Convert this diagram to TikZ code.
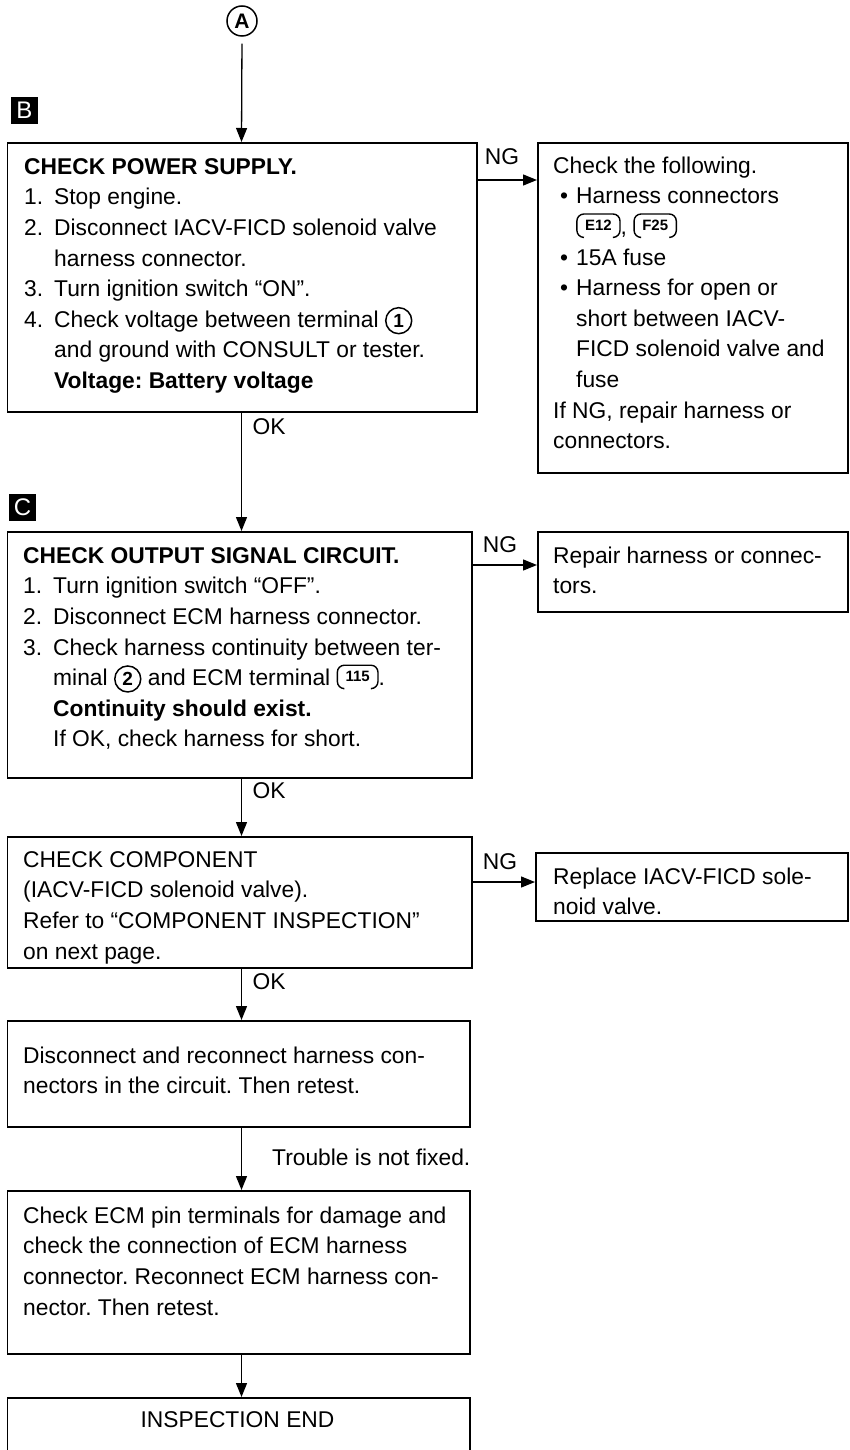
\documentclass[tikz,border=0pt]{standalone}
\usepackage{fontspec}
\setmainfont{Liberation Sans}
\usetikzlibrary{arrows.meta}

% circled terminal number
\newcommand\cnum[1]{\tikz[baseline=0pt]\node[anchor=base,circle,draw,line width=1.5pt,inner sep=0pt,minimum size=26pt,align=center,font=\fontsize{19}{19}\selectfont\bfseries]{#1};}
% connector symbol: rounded cap over the connector number
\newcommand\conn[1]{\tikz[baseline={([yshift=3pt]k.south)}]{\node[anchor=center,inner xsep=8pt,inner ysep=0pt,minimum height=23pt,align=center,font=\fontsize{15}{15}\selectfont\bfseries](k){#1};\draw[line width=1.4pt,rounded corners=7pt]([xshift=6pt]k.south west)--(k.south west)--(k.north west)--(k.north east)--(k.south east)--([xshift=-6pt]k.south east);}}
% numbered items, bullets and indents
\newcommand\nm[1]{\makebox[30pt][l]{#1}}
\newcommand\ind{\hspace*{30pt}}
\newcommand\bul{\hspace*{7pt}\makebox[16pt][l]{•}}
\newcommand\bind{\hspace*{23pt}}
\newcommand\fst{\rule{0pt}{23pt}}

\begin{document}
\frenchspacing
\begin{tikzpicture}[x=1pt,y=-1pt,
  box/.style={draw,line width=1.7pt,inner sep=0pt,anchor=north west},
  txt/.style={anchor=north west,inner sep=0pt,align=left,font=\fontsize{22.8}{30.6}\selectfont\frenchspacing},
  lbl/.style={inner sep=0pt,font=\fontsize{22.8}{26}\selectfont\frenchspacing},
  arr/.style={line width=1.3pt,-{Triangle[length=14pt,width=11pt]}},
  tagbox/.style={fill=black,text=white,minimum size=27pt,inner sep=0pt,font=\fontsize{24}{24}\selectfont}]
\useasboundingbox (0,0) rectangle (850,1450);
\clip (0,0) rectangle (850,1450);
\fill[white] (0,0) rectangle (850,1450);

\coordinate (axis) at (241.5,0);

% entry point
\node[draw,circle,line width=1.5pt,minimum size=30pt,inner sep=0pt,font=\fontsize{21}{21}\selectfont\bfseries] (A) at (242,21) {A};

% step markers
\node[tagbox] (tagB) at (24.5,110.5) {B};
\node[tagbox] (tagC) at (22.5,507.5) {C};

% boxes
\node[box,minimum width=469.5pt,minimum height=269pt] (B) at (6.5,142) {};
\node[box,minimum width=310pt,minimum height=330pt] (R1) at (537,142) {};
\node[box,minimum width=464.5pt,minimum height=246pt] (C) at (6.5,531) {};
\node[box,minimum width=310pt,minimum height=80pt] (R2) at (537,531) {};
\node[box,minimum width=464.5pt,minimum height=131pt] (D) at (6.5,836) {};
\node[box,minimum width=312pt,minimum height=68pt] (R3) at (535,852) {};
\node[box,minimum width=462.5pt,minimum height=106pt] (E) at (6.5,1020) {};
\node[box,minimum width=462.5pt,minimum height=163pt] (F) at (6.5,1190) {};
\node[box,minimum width=462.5pt,minimum height=90pt] (G) at (6.5,1397) {};

% box texts
\node[txt] (Bt) at (24,151) {\fst\textbf{CHECK POWER SUPPLY.}\\
\nm{1.}Stop engine.\\
\nm{2.}Disconnect IACV-FICD solenoid valve\\
\ind harness connector.\\
\nm{3.}Turn ignition switch “ON”.\\
\nm{4.}Check voltage between terminal \cnum{1}\\
\ind and ground with CONSULT or tester.\\
\ind\textbf{Voltage: Battery voltage}};

\node[txt] (R1t) at (553,150) {\fst Check the following.\\
\bul Harness connectors\\
\bind\conn{E12}, \conn{F25}\\
\bul 15A fuse\\
\bul Harness for open or\\
\bind short between IACV-\\
\bind FICD solenoid valve and\\
\bind fuse\\
If NG, repair harness or\\
connectors.};

\node[txt] (Ct) at (23,540) {\fst\textbf{CHECK OUTPUT SIGNAL CIRCUIT.}\\
\nm{1.}Turn ignition switch “OFF”.\\
\nm{2.}Disconnect ECM harness connector.\\
\nm{3.}Check harness continuity between ter-\\
\ind minal \cnum{2} and ECM terminal \conn{115}.\\
\ind\textbf{Continuity should exist.}\\
\ind If OK, check harness for short.};

\node[txt] (R2t) at (553,540) {\fst Repair harness or connec-\\
tors.};

\node[txt] (Dt) at (23,844) {\fst CHECK COMPONENT\\
(IACV-FICD solenoid valve).\\
Refer to “COMPONENT INSPECTION”\\
on next page.};

\node[txt] (R3t) at (553,861) {\fst Replace IACV-FICD sole-\\
noid valve.};

\node[txt] (Et) at (23,1040) {\fst Disconnect and reconnect harness con-\\
nectors in the circuit. Then retest.};

\node[txt] (Ft) at (23,1200) {\fst Check ECM pin terminals for damage and\\
check the connection of ECM harness\\
connector. Reconnect ECM harness con-\\
nector. Then retest.};

\node[lbl] (Gt) at (237.5,1420) {INSPECTION END};

% flow connectors
\draw[arr,shorten <=7pt] (A.south) -- (B.north -| axis);
\draw[arr] (B.south -| axis) -- (C.north -| axis);
\draw[arr] (C.south -| axis) -- (D.north -| axis);
\draw[arr] (D.south -| axis) -- (E.north -| axis);
\draw[arr] (E.south -| axis) -- (F.north -| axis);
\draw[arr] (F.south -| axis) -- (G.north -| axis);

\draw[arr] (B.east |- 0,180) -- (R1.west |- 0,180);
\draw[arr] (C.east |- 0,565) -- (R2.west |- 0,565);
\draw[arr] (D.east |- 0,882) -- (R3.west |- 0,882);

% connector labels
\node[lbl] (ng1) at (502,157) {NG};
\node[lbl] (ng2) at (500,545) {NG};
\node[lbl] (ng3) at (500,862) {NG};
\node[lbl] (ok1) at (269,427) {OK};
\node[lbl] (ok2) at (269,791) {OK};
\node[lbl] (ok3) at (269,982) {OK};
\node[lbl,anchor=west] (tr) at (272,1157) {Trouble is not fixed.};
\end{tikzpicture}
\end{document}
